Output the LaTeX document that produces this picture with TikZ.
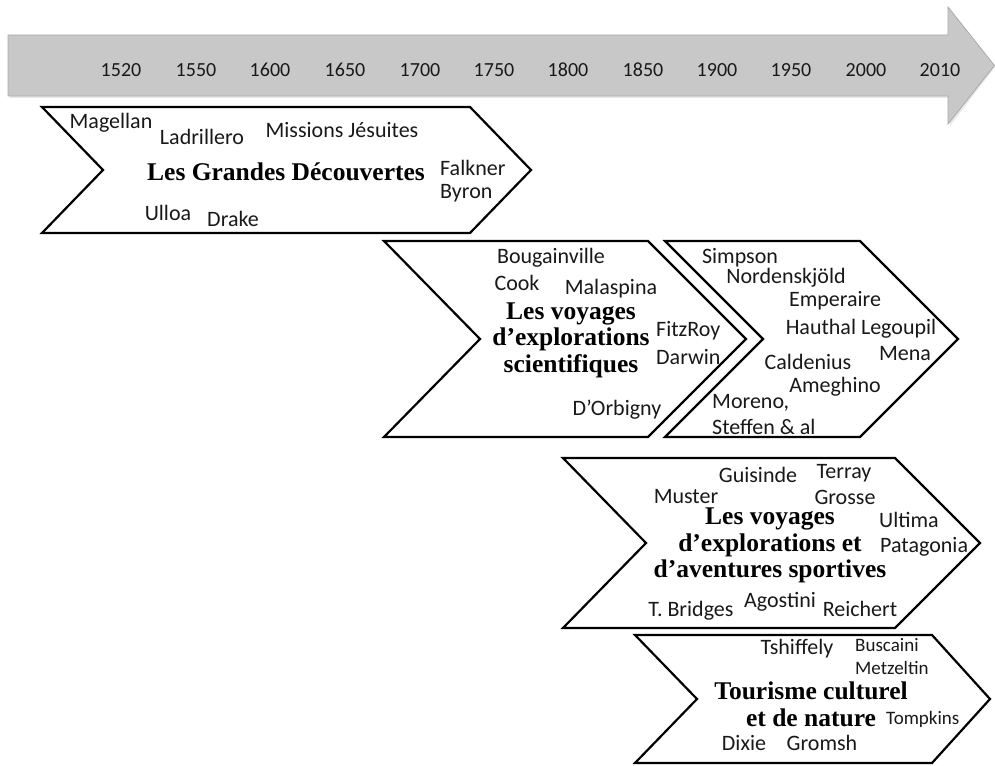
\documentclass[tikz,border=0pt]{standalone}
\usepackage{fontspec}
\setmainfont{Liberation Serif}
\newfontfamily\namefont{Carlito}
\definecolor{AxeGris}{RGB}{200,200,200}
\definecolor{AxeBord}{RGB}{170,170,170}
\definecolor{AxeOmbre}{RGB}{232,232,232}

\begin{document}
\begin{tikzpicture}[x=1pt, y=-1pt,
  nom/.style={font=\namefont\fontsize{22}{24}\selectfont, inner sep=0pt, text=black!90},
  petitnom/.style={font=\namefont\fontsize{19}{21}\selectfont, inner sep=0pt, text=black!90},
  annee/.style={font=\namefont\fontsize{20}{22}\selectfont, inner sep=0pt, text=black!90},
  titre/.style={font=\bfseries\fontsize{25.5}{26.5}\selectfont, align=center, inner sep=0pt},
  chevron/.style={draw=black, line width=2.2pt, fill=white, line join=miter}]
\useasboundingbox (0,0) rectangle (995,765);
% axe du temps
\fill[AxeOmbre] (10,37) -- (950,37) -- (950,9) -- (995,67) -- (950,126) -- (950,98) -- (10,98) -- cycle;
\draw[fill=AxeGris, draw=AxeBord, line width=0.8pt] (8,35) -- (948,35) -- (948,7) -- (994.5,65.5) -- (948,124) -- (948,96) -- (8,96) -- cycle;
\foreach \an/\x in {1520/121, 1550/196, 1600/270, 1650/345, 1700/420, 1750/494,
                    1800/568, 1850/643, 1900/717, 1950/791, 2000/866, 2010/940}
  \node[annee] (a\an) at (\x,70) {\an};
% les cinq periodes
\draw[chevron] (42,107) -- (470,107) -- (531,170) -- (470,233) -- (42,233) -- (103,170) -- cycle;
\draw[chevron] (384,241) -- (648,241) -- (746,339) -- (648,437) -- (384,437) -- (480,339) -- cycle;
\draw[chevron] (665,241) -- (860,241) -- (958,339) -- (860,437) -- (665,437) -- (763,339) -- cycle;
\draw[chevron] (563,458) -- (895,458) -- (980,543) -- (895,628) -- (563,628) -- (646,543) -- cycle;
\draw[chevron] (635,635) -- (932,635) -- (990,699) -- (932,763) -- (635,763) -- (697,699) -- cycle;
% Grandes Decouvertes
\node[titre] (decouv) at (286,172) {Les Grandes Découvertes};
\node[nom] (magellan) at (111,123) {Magellan};
\node[nom] (ladrillero) at (202,137) {Ladrillero};
\node[nom] (jesuites) at (342,130) {Missions Jésuites};
\node[nom, anchor=west] (falkner) at (440,168) {Falkner};
\node[nom, anchor=west] (byron) at (440,193) {Byron};
\node[nom] (ulloa) at (168,213) {Ulloa};
\node[nom] (drake) at (233,219) {Drake};
% voyages scientifiques
\node[titre] (scient) at (571,340) {Les voyages\\d’explorations\\scientifiques};
\node[nom] (bougainville) at (551,258) {Bougainville};
\node[nom] (cook) at (517,283) {Cook};
\node[nom] (malaspina) at (611,289) {Malaspina};
\node[nom, anchor=west] (fitzroy) at (656,331) {FitzRoy};
\node[nom, anchor=west] (darwin) at (656,357) {Darwin};
\node[nom] (orbigny) at (617,410) {D’Orbigny};
% explorateurs
\node[nom] (simpson) at (740,258) {Simpson};
\node[nom] (nordenskjold) at (786,278) {Nordenskjöld};
\node[nom] (emperaire) at (835,301) {Emperaire};
\node[nom] (hauthal) at (861,329) {Hauthal Legoupil};
\node[nom] (mena) at (905,354) {Mena};
\node[nom] (caldenius) at (808,362) {Caldenius};
\node[nom] (ameghino) at (835,387) {Ameghino};
\node[nom, anchor=west] (moreno) at (712,403) {Moreno,};
\node[nom, anchor=west] (steffen) at (712,427) {Steffen \& al};
% aventures sportives
\node[titre] (sport) at (770,545.5) {Les voyages\\d’explorations et\\d’aventures sportives};
\node[nom] (guisinde) at (758,475) {Guisinde};
\node[nom] (terray) at (844,473) {Terray};
\node[nom] (muster) at (686,497) {Muster};
\node[nom] (grosse) at (845,497) {Grosse};
\node[nom, anchor=west] (ultima) at (879,520) {Ultima};
\node[nom, anchor=west] (patagonia) at (880,547) {Patagonia};
\node[nom] (bridges) at (691,611) {T. Bridges};
\node[nom] (agostini) at (780,602) {Agostini};
\node[nom] (reichert) at (860,609) {Reichert};
% tourisme
\node[titre] (tourisme) at (811,704.5) {Tourisme culturel\\et de nature};
\node[nom] (tshiffely) at (797,649) {Tshiffely};
\node[petitnom, anchor=west] (buscaini) at (855,645) {Buscaini};
\node[petitnom, anchor=west] (metzeltin) at (855,668) {Metzeltin};
\node[petitnom, anchor=west] (tompkins) at (886,719) {Tompkins};
\node[nom] (dixie) at (744,743) {Dixie};
\node[nom] (gromsh) at (822,743) {Gromsh};
\end{tikzpicture}
\end{document}
